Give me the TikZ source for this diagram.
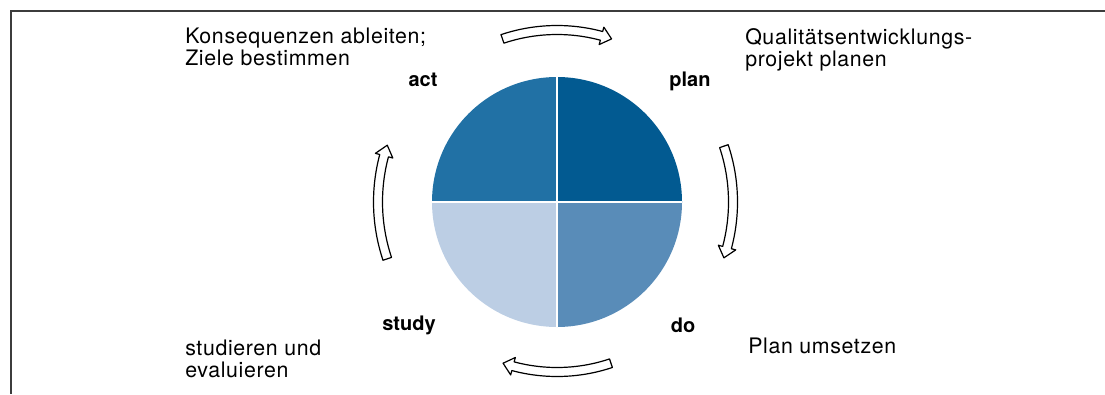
\documentclass[tikz,border=0pt]{standalone}
\usepackage{fontspec}
\setmainfont{TeX Gyre Heros}
\newfontfamily\descfont[LetterSpace=3]{TeX Gyre Heros}
\definecolor{planblue}{RGB}{2,90,145}
\definecolor{actblue}{RGB}{33,113,165}
\definecolor{doblue}{RGB}{89,140,184}
\definecolor{studyblue}{RGB}{188,206,228}
\definecolor{framegray}{RGB}{60,60,60}
\tikzset{
  phase/.style={font=\bfseries\fontsize{15}{17}\selectfont,inner sep=0pt},
  desc/.style={font=\descfont\fontsize{16}{16.5}\selectfont,align=left,inner sep=0pt,anchor=base west},
  cyclearrow/.style={draw=black,fill=white,line width=0.9pt,line join=round}
}
\begin{document}
\begin{tikzpicture}[x=0.75pt,y=0.75pt]
\useasboundingbox (0,0) rectangle (1105,394);
\draw[framegray,line width=1.3pt] (1105,383) -- (11,383) -- (11,0);
\coordinate (c) at (557,192);
% quarters of the disc
\foreach \a/\col in {0/planblue,90/actblue,180/studyblue,270/doblue}{
 \fill[\col] (c) -- ++(\a:125) arc[start angle=\a,end angle=\a+90,radius=125] -- cycle;
}
\draw[white,line width=2.2pt] (432,192) -- (682,192) (557,67) -- (557,317);
% hollow arrows around the disc, clockwise
\begin{scope}[shift={(c)}]
\foreach \a/\r in {90/172,0/176,-90/170,180/179}{
 \pgfmathsetmacro{\s}{\a+18.5}
 \pgfmathsetmacro{\e}{\a-18.5}
 \pgfmathsetmacro{\h}{\e+3.5}
 \pgfmathsetmacro{\ro}{\r+4.5}
 \pgfmathsetmacro{\ri}{\r-4.5}
 \pgfmathsetmacro{\rho}{\r+9}
 \pgfmathsetmacro{\rhi}{\r-9}
 \draw[cyclearrow] (\s:\ro) arc[start angle=\s,end angle=\h,radius=\ro]
  -- (\h:\rho) -- (\e:\r) -- (\h:\rhi) -- (\h:\ri)
  arc[start angle=\h,end angle=\s,radius=\ri] -- cycle;
}
\end{scope}
\node[phase] (act) at (423,314) {act};
\node[phase] (plan) at (690,313) {plan};
\node[phase] (study) at (409,69) {study};
\node[phase] (do) at (683,69) {do};
% base anchor sits on the last line
\node[desc] (actdesc) at (185,329) {Konsequenzen ableiten;\\Ziele bestimmen};
\node[desc] (plandesc) at (745,328) {Qualitätsentwicklungs-\\projekt planen};
\node[desc] (studydesc) at (185,17) {studieren und\\evaluieren};
\node[desc] (dodesc) at (748,41) {Plan umsetzen};
\end{tikzpicture}
\end{document}
